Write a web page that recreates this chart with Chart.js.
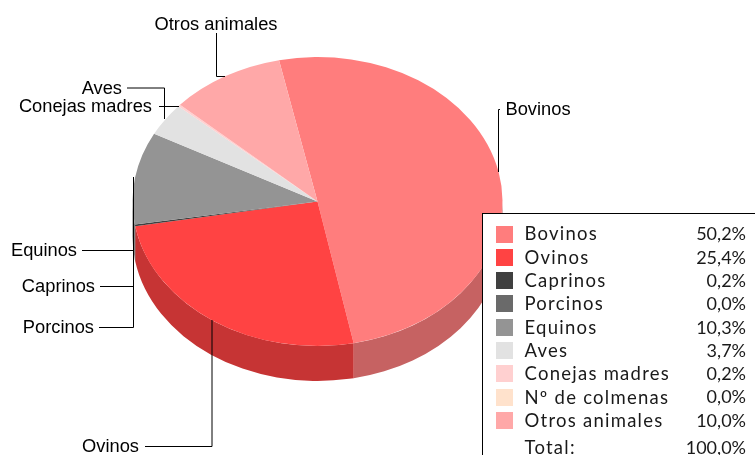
<!DOCTYPE html>
<html><head><meta charset="utf-8">
<style>html,body{margin:0;padding:0;background:#fff;overflow:hidden}canvas{display:block}</style>
<script src="https://cdn.jsdelivr.net/npm/chart.js@4"></script>
</head><body>
<canvas id="c" width="755" height="455"></canvas>
<script>
const categories = ['Bovinos','Ovinos','Caprinos','Porcinos','Equinos','Aves','Conejas madres','Nº de colmenas','Otros animales'];
const values = [50.2,25.4,0.2,0.0,10.3,3.7,0.2,0.0,10.0];
const valueLabels = ['50,2%','25,4%','0,2%','0,0%','10,3%','3,7%','0,2%','0,0%','10,0%'];
const totalLabel = 'Total:';
const totalValue = '100,0%';
const colors = ['#FF7D7D','#FF4343','#404040','#6A6A6A','#949494','#E2E2E2','#FFD0D0','#FFE2CC','#FFA8A8'];
const sideColors = ['#C66262','#C63434','#323232','#525252','#737373','#B0B0B0','#C6A2A2','#C6B09F','#C68383'];

const Y_SCALE = 144.5/185, DEPTH = 35;
const LEGEND_FONT = '18.5px "Lato", sans-serif', VALUE_FONT = '18px "Lato", sans-serif', LABEL_FONT = '18.3px "Liberation Sans", Arial, sans-serif';

const callouts = [
 {t:'Bovinos',x:505.5,y:110,a:'left',p:[[500,109.5],[498.5,109.5],[498.5,172]]},
 {t:'Otros animales',x:154.5,y:24.5,a:'left',p:[[216.5,33],[216.5,76.5],[225,76.5]]},
 {t:'Aves',x:122,y:89,a:'right',p:[[127,88],[164.5,88],[164.5,119]]},
 {t:'Conejas madres',x:152,y:107,a:'right',p:[[159,106.5],[179,106.5]]},
 {t:'Equinos',x:77,y:251,a:'right',p:[[82,250.5],[133.5,250.5],[133.5,177]]},
 {t:'Caprinos',x:95,y:287,a:'right',p:[[100,286.5],[133.5,286.5],[133.5,224]]},
 {t:'Porcinos',x:94,y:328,a:'right',p:[[99,327.5],[133.5,327.5],[133.5,224]]},
 {t:'Ovinos',x:139,y:447,a:'right',p:[[145,446.5],[212,446.5],[212,320]]}
];

const pie3d = {
 id:'pie3d',
 beforeDatasetDraw(chart){
  const ctx = chart.ctx, arcs = chart.getDatasetMeta(0).data;
  const a0 = arcs[0], cx = a0.x, cy = a0.y, r = a0.outerRadius, ry = r*Y_SCALE;
  arcs.forEach((arc,i)=>{
    const s = Math.max(arc.startAngle,0), e = Math.min(arc.endAngle,Math.PI);
    if(e<=s) return;
    ctx.beginPath();
    ctx.ellipse(cx,cy,r,ry,0,s,e);
    ctx.ellipse(cx,cy+DEPTH,r,ry,0,e,s,true);
    ctx.closePath();
    ctx.fillStyle = sideColors[i];
    ctx.fill();
  });
  ctx.save();
  ctx.translate(cx,cy); ctx.scale(1,Y_SCALE); ctx.translate(-cx,-cy);
 },
 afterDatasetDraw(chart){ chart.ctx.restore(); },
 afterDraw(chart){
  const ctx = chart.ctx;
  ctx.save();
  ctx.strokeStyle='#000'; ctx.lineWidth=1;
  ctx.font=LABEL_FONT; ctx.fillStyle='#000'; ctx.textBaseline='middle';
  callouts.forEach(c=>{
    ctx.beginPath();
    c.p.forEach((q,i)=> i?ctx.lineTo(q[0],q[1]):ctx.moveTo(q[0],q[1]));
    ctx.stroke();
    ctx.textAlign=c.a;
    ctx.fillText(c.t,c.x,c.y);
  });
  ctx.fillStyle='#fff'; ctx.fillRect(482.5,213.5,280,250);
  ctx.strokeStyle='#000'; ctx.strokeRect(482.5,213.5,280,250);
  ctx.textBaseline='middle';
  const row = (name,val,y)=>{
    ctx.fillStyle='#1a1a1a';
    ctx.font=LEGEND_FONT; ctx.letterSpacing='1.25px'; ctx.textAlign='left'; ctx.fillText(name,524.5,y);
    ctx.font=VALUE_FONT; ctx.letterSpacing='0px'; ctx.textAlign='right'; ctx.fillText(val,746,y);
  };
  categories.forEach((n,i)=>{
    const y = 234.5+i*23.3;
    ctx.fillStyle=colors[i]; ctx.fillRect(496,Math.round(y-9),17,17);
    row(n,valueLabels[i],y);
  });
  row(totalLabel,totalValue,448);
  ctx.restore();
 }
};

new Chart(document.getElementById('c'),{
 type:'pie',
 data:{labels:categories,datasets:[{data:values,backgroundColor:colors,borderWidth:0}]},
 options:{
  responsive:false,animation:false,events:[],
  rotation:-12,
  layout:{padding:{left:132.5,right:252.5,top:16.5,bottom:68.5}},
  plugins:{legend:{display:false},tooltip:{enabled:false},title:{display:false}}
 },
 plugins:[pie3d]
});
</script>
</body></html>
